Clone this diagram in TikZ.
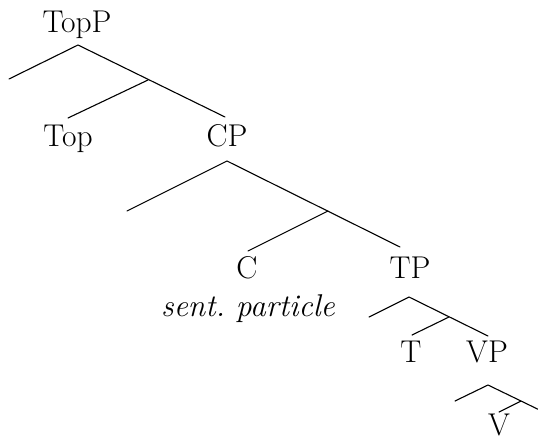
\documentclass[tikz,border=0pt]{standalone}
\begin{document}
\begin{tikzpicture}[x=1pt,y=-1pt,
  lab/.style={anchor=base,inner sep=0pt,font=\fontsize{31.5}{38}\selectfont},
  br/.style={line width=1.1pt,line cap=round}]
\useasboundingbox (0,0) rectangle (538,440);
\clip (0,0) rectangle (538,440);
% labels
\node[lab] (topp) at (77,32) {TopP};
\node[lab] (top) at (68,146) {Top};
\node[lab] (cp) at (227,146) {CP};
\node[lab] (c) at (247,278) {C};
\node[lab] (sp) at (248,316) {\itshape sent.\ particle};
\node[lab] (tp) at (410,278) {TP};
\node[lab] (t) at (411,362) {T};
\node[lab] (vp) at (487,362) {VP};
\node[lab] (v) at (499,435.5) {V};
% TopP
\coordinate (a1) at (78,45);
\coordinate (s1) at (9,79);
\coordinate (j1) at (148,80);
\coordinate (h1) at (68,118);
\coordinate (c1) at (225,117);
\draw[br] (s1) -- (a1) -- (c1);
\draw[br] (j1) -- (h1);
% CP
\coordinate (a2) at (227,161);
\coordinate (s2) at (127,211);
\coordinate (j2) at (328,211);
\coordinate (h2) at (248,251);
\coordinate (c2) at (400,247);
\draw[br] (s2) -- (a2) -- (c2);
\draw[br] (j2) -- (h2);
% TP
\coordinate (a3) at (409,297);
\coordinate (s3) at (369,317);
\coordinate (j3) at (449,317);
\coordinate (h3) at (412,335);
\coordinate (c3) at (488,336);
\draw[br] (s3) -- (a3) -- (c3);
\draw[br] (j3) -- (h3);
% VP
\coordinate (a4) at (488,385);
\coordinate (s4) at (455,401);
\coordinate (j4) at (521,401);
\coordinate (h4) at (499,412);
\coordinate (c4) at (554,417);
\draw[br] (s4) -- (a4) -- (c4);
\draw[br] (j4) -- (h4);
\end{tikzpicture}
\end{document}
